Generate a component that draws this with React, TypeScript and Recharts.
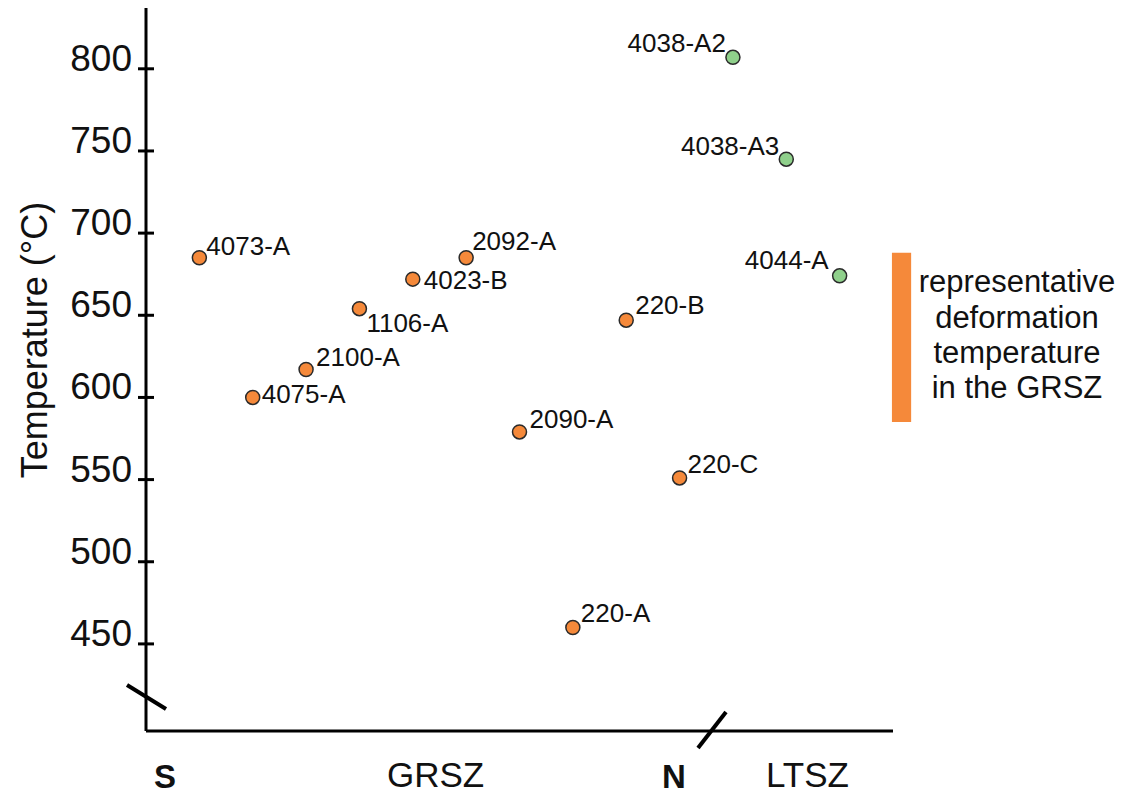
import React from 'react'
import { ScatterChart, Scatter, XAxis, YAxis, ReferenceArea } from 'recharts'

// samples along the transect, south -> north
const grszSamples = ['4073-A', '4075-A', '2100-A', '1106-A', '4023-B', '2092-A', '2090-A', '220-A', '220-B', '220-C']
const grszTemps = [685, 600, 617, 654, 672, 685, 579, 460, 647, 551]
const ltszSamples = ['4038-A2', '4038-A3', '4044-A']
const ltszTemps = [807, 745, 674]

const yTicks = [450, 500, 550, 600, 650, 700, 750, 800]
const grszBand = [585, 688]

const FONT = '"Liberation Sans", Arial, Helvetica, sans-serif'
const ORANGE = '#F5893A'
const GREEN = '#8FD08B'

// where each sample label sits relative to its dot
const labelPlacement: Record<string, { dx: number; dy: number; anchor: 'start' | 'end' }> = {
  '4073-A': { dx: 7, dy: -3, anchor: 'start' },
  '4075-A': { dx: 9, dy: 6, anchor: 'start' },
  '2100-A': { dx: 10, dy: -4, anchor: 'start' },
  '1106-A': { dx: 7, dy: 23, anchor: 'start' },
  '4023-B': { dx: 11, dy: 10, anchor: 'start' },
  '2092-A': { dx: 6, dy: -8, anchor: 'start' },
  '2090-A': { dx: 10, dy: -4, anchor: 'start' },
  '220-A': { dx: 8, dy: -5, anchor: 'start' },
  '220-B': { dx: 9, dy: -6, anchor: 'start' },
  '220-C': { dx: 8, dy: -5, anchor: 'start' },
  '4038-A2': { dx: -7, dy: -5, anchor: 'end' },
  '4038-A3': { dx: -7, dy: -4, anchor: 'end' },
  '4044-A': { dx: -11, dy: -7, anchor: 'end' },
}

const grszData = grszSamples.map((name, i) => ({ name, pos: i + 1, temp: grszTemps[i] }))
const ltszData = ltszSamples.map((name, i) => ({ name, pos: grszSamples.length + i + 1, temp: ltszTemps[i] }))

function makeDot(fill: string) {
  return (props: any) => {
    const { cx, cy, payload } = props
    const lp = labelPlacement[payload.name] || { dx: 8, dy: -4, anchor: 'start' }
    return (
      <g>
        <circle cx={cx} cy={cy} r={7} fill={fill} stroke="#2a2a2a" strokeWidth={1.5} />
        <text x={cx + lp.dx} y={cy + lp.dy} textAnchor={lp.anchor} fontSize={26} fontFamily={FONT} fill="#111">
          {payload.name}
        </text>
      </g>
    )
  }
}

function YTick(props: any) {
  const { x, y, payload } = props
  return (
    <g>
      <line x1={x - 8} x2={x + 8} y1={y} y2={y} stroke="#000" strokeWidth={3} />
      <text x={x - 14} y={y + 2} textAnchor="end" fontSize={37} fontFamily={FONT} fill="#111">
        {payload.value}
      </text>
    </g>
  )
}

export default function App() {
  return (
    <div style={{ position: 'absolute', left: 0, top: 0, width: 1125, height: 795, background: '#fff' }}>
      <ScatterChart width={1125} height={795} margin={{ top: 8, right: 232, bottom: 0, left: 0 }}>
        <XAxis
          type="number"
          dataKey="pos"
          domain={[0, 14]}
          ticks={[]}
          tick={false}
          tickLine={false}
          height={64}
          axisLine={{ stroke: '#000', strokeWidth: 3 }}
        />
        <YAxis
          type="number"
          dataKey="temp"
          domain={[397, 837]}
          ticks={yTicks}
          width={146}
          tickSize={0}
          tickMargin={0}
          tickLine={false}
          tick={<YTick />}
          axisLine={{ stroke: '#000', strokeWidth: 3 }}
          label={{
            content: () => (
              <text transform="translate(47,340) rotate(-90)" textAnchor="middle" fontSize={36} fontFamily={FONT} fill="#111">
                Temperature (°C)
              </text>
            ),
          }}
        />
        <ReferenceArea
          x1={13.98}
          x2={14.34}
          y1={grszBand[0]}
          y2={grszBand[1]}
          fill={ORANGE}
          fillOpacity={1}
          stroke="none"
          ifOverflow="visible"
        />
        <Scatter data={grszData} shape={makeDot(ORANGE)} isAnimationActive={false} />
        <Scatter data={ltszData} shape={makeDot(GREEN)} isAnimationActive={false} />
      </ScatterChart>
      <svg width={1125} height={795} style={{ position: 'absolute', left: 0, top: 0, pointerEvents: 'none' }}>
        {/* axis breaks */}
        <line x1={127} y1={685} x2={166} y2={709} stroke="#000" strokeWidth={4} />
        <line x1={698} y1={748} x2={726} y2={712} stroke="#000" strokeWidth={4} />
        {/* zone labels */}
        <text x={154} y={788} fontSize={33} fontWeight="bold" fontFamily={FONT} fill="#111">S</text>
        <text x={387} y={787} fontSize={35} fontFamily={FONT} fill="#111">GRSZ</text>
        <text x={662} y={788} fontSize={33} fontWeight="bold" fontFamily={FONT} fill="#111">N</text>
        <text x={766} y={787} fontSize={35} fontFamily={FONT} fill="#111">LTSZ</text>
        <text textAnchor="middle" fontSize={31} fontFamily={FONT} fill="#111">
          <tspan x={1017} y={292}>representative</tspan>
          <tspan x={1017} y={328}>deformation</tspan>
          <tspan x={1017} y={363}>temperature</tspan>
          <tspan x={1017} y={398}>in the GRSZ</tspan>
        </text>
      </svg>
    </div>
  )
}
